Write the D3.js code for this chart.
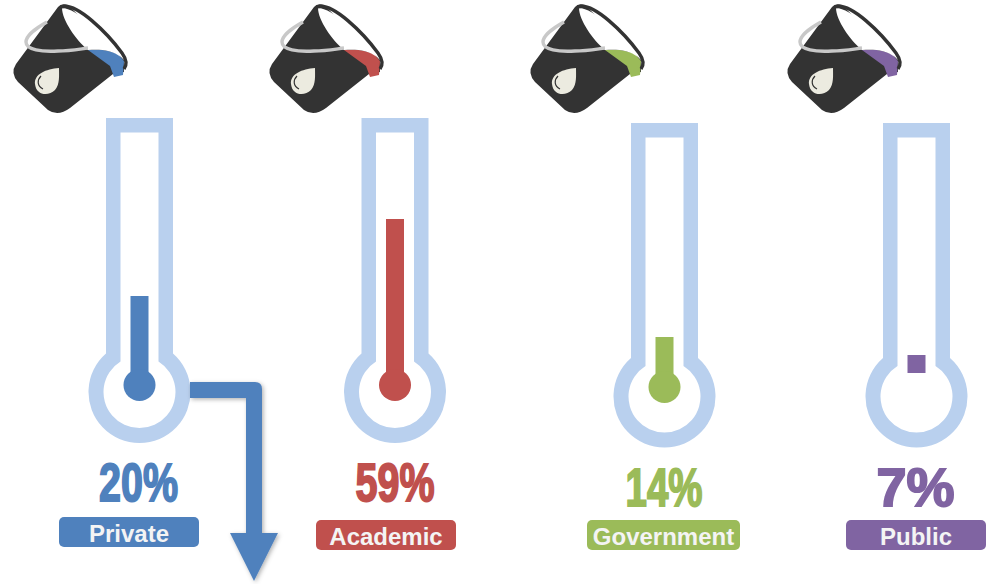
<!DOCTYPE html>
<html><head><meta charset="utf-8">
<script src="https://cdn.jsdelivr.net/npm/d3@7"></script>
<style>html,body{margin:0;background:#fff}svg{display:block}</style></head>
<body><svg id="c" width="988" height="584"></svg>
<script>
const categories = ["Private","Academic","Government","Public"];
const values = [20,59,14,7];
const tickLabels = ["20%","59%","14%","7%"];
const colors = ["#4f81bd","#c0504d","#9bbb59","#8064a2"];
const hasBulbFill = [true,true,true,false];

const W=988,H=584;
const svg=d3.select("#c").attr("viewBox",[0,0,W,H]);
const defs=svg.append("defs");
const f=defs.append("filter").attr("id","sh").attr("x","-20%").attr("y","-20%").attr("width","150%").attr("height","150%");
f.append("feDropShadow").attr("dx",1.5).attr("dy",1.5).attr("stdDeviation",2).attr("flood-color","#000").attr("flood-opacity",0.3);

// layout scales
const cx=d3.scaleOrdinal(categories,[139.5,395,664.5,916.5]);
const tubeTop=d3.scaleOrdinal(categories,[118,118,123,123]);
const bulbY=d3.scaleOrdinal(categories,[392,392,396.5,396.5]);
const fillBase=d3.scaleOrdinal(categories,[385,385,387,373]);
const labelX=d3.scaleOrdinal(categories,[59,316,587,846]);
const labelW=d3.scaleOrdinal(categories,[140,140,153,140]);
const labelY=d3.scaleOrdinal(categories,[517,520,520,520]);
const pctX=d3.scaleOrdinal(categories,[138.5,395,664,915.5]);
const pctY=d3.scaleOrdinal(categories,[501,501,506,506]);
const pctW=d3.scaleOrdinal(categories,[79,79,77,78]);
const bucketDx=d3.scaleOrdinal(categories,[0,256,517,774]);
// fill level (the gauges are not strictly proportional)
const level=d3.scaleLinear().domain([7,14,20,59]).range([355,337,296,219]);

function bulbPath(c,top,cy,hw,r){
  const dy=Math.sqrt(r*r-hw*hw);
  return `M${c-hw},${top}H${c+hw}V${cy-dy}A${r},${r} 0 1 1 ${c-hw},${cy-dy}Z`;
}

const g=svg.selectAll("g.t").data(categories).join("g").attr("class","t");

// gauge glass
g.append("path").attr("fill","#b9d0ee").attr("fill-rule","evenodd")
 .attr("d",d=>bulbPath(cx(d),tubeTop(d),bulbY(d),33.5,51)+bulbPath(cx(d),tubeTop(d)+14.5,bulbY(d),19,36));

// gauge fill
g.append("rect").attr("fill",(d,i)=>colors[i])
 .attr("x",d=>cx(d)-9).attr("width",18)
 .attr("y",(d,i)=>level(values[i]))
 .attr("height",(d,i)=>fillBase(d)-level(values[i]));
g.filter((d,i)=>hasBulbFill[i]).append("circle")
 .attr("fill",d=>colors[categories.indexOf(d)])
 .attr("cx",d=>cx(d)).attr("cy",d=>fillBase(d)).attr("r",16);

// percentage
g.append("text").text((d,i)=>tickLabels[i])
 .attr("x",d=>pctX(d)).attr("y",d=>pctY(d))
 .attr("text-anchor","middle").attr("fill",(d,i)=>colors[i])
 .attr("stroke",(d,i)=>colors[i]).attr("stroke-width",1.9).attr("stroke-linejoin","miter")
 .attr("font-family","'Liberation Sans',Arial,sans-serif").attr("font-weight","bold").attr("font-size",54)
 .attr("textLength",d=>pctW(d)).attr("lengthAdjust","spacingAndGlyphs");

// label pill
g.append("rect").attr("fill",(d,i)=>colors[i]).attr("rx",5)
 .attr("x",d=>labelX(d)).attr("y",d=>labelY(d)).attr("width",d=>labelW(d)).attr("height",30);
g.append("text").text(d=>d)
 .attr("x",d=>labelX(d)+labelW(d)/2).attr("y",d=>labelY(d)+24.5)
 .attr("text-anchor","middle").attr("fill","#f4f4f4")
 .attr("font-family","'Liberation Sans',Arial,sans-serif").attr("font-weight","bold").attr("font-size",24);

// bucket
const b=g.append("g").attr("transform",d=>`translate(${bucketDx(d)},0)`);
// body
b.append("path").attr("fill","#333")
 .attr("d","M58,7Q61,3 68,5L124,60L124,72L113,74L70,108Q58,117 48,110L18,82Q10,73 16,64Z");
// liquid
b.append("path").attr("fill",(d,i)=>colors[i])
 .attr("d","M88,50C102,49 113,51 119,55L124,61L123,75L114,77L110,66Z");
// opening
b.append("path").attr("fill","#fff").attr("d","M62,8C76,8 106,34 121,57C112,50 100,49 88,50C76,40 62,20 62,8Z");
// rim
b.append("path").attr("fill","none").attr("stroke","#333").attr("stroke-width",3.4)
 .attr("d","M61,7C76,1 108,34 122,53C127,60 127,65 124,69");
// handle
b.append("path").attr("fill","none").attr("stroke","#c8c8c8").attr("stroke-width",3.4)
 .attr("d","M47,22C36,28 26,36 26,42C26,50 42,52 58,51C70,51 80,49 88,48");
// drop
b.append("path").attr("fill","#ecebe0")
 .attr("d","M59,68C59,76 60,84 55,90C48,97 36,95 35,84C34,74 46,69 59,68Z");
b.append("path").attr("fill","none").attr("stroke","#333").attr("stroke-width",1.2)
 .attr("d","M41,76C37,80 37,86 43,89");

// arrow from the Private gauge
svg.append("path").attr("fill",colors[0]).attr("filter","url(#sh)")
 .attr("d","M190,382H255Q262,382 262,389V533H278L254,581L230,533H246V398H190Z");
</script></body></html>
